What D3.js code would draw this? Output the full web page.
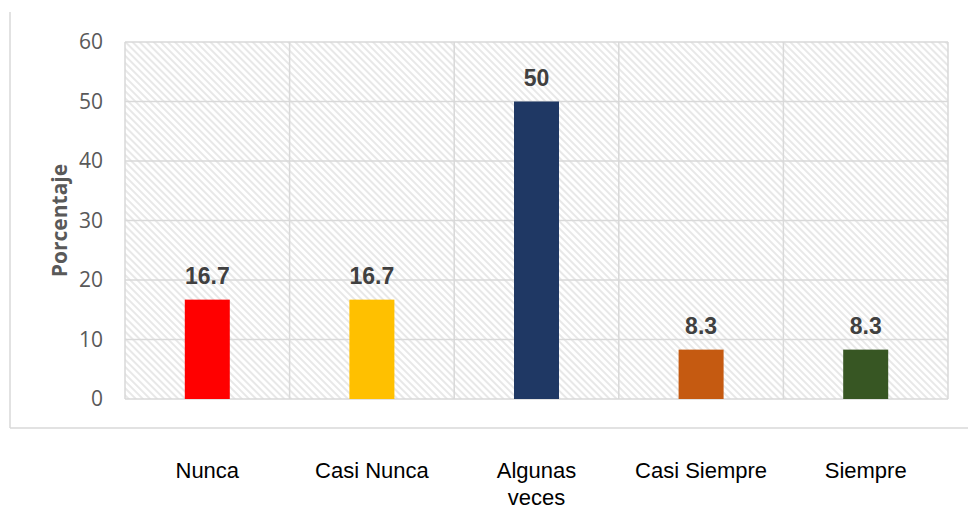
<!DOCTYPE html>
<html>
<head>
<meta charset="utf-8">
<script src="https://cdn.jsdelivr.net/npm/d3@7"></script>
<style>
  body { margin: 0; background: #fff; }
  svg { display: block; }
</style>
</head>
<body>
<svg id="chart" width="968" height="511"></svg>
<script>
var categories = ["Nunca", "Casi Nunca", "Algunas veces", "Casi Siempre", "Siempre"];
var values = [16.7, 16.7, 50, 8.3, 8.3];
var valueLabels = ["16.7", "16.7", "50", "8.3", "8.3"];
var colors = ["#ff0000", "#ffc000", "#1f3864", "#c55a11", "#375623"];
var yTicks = [0, 10, 20, 30, 40, 50, 60];

var svg = d3.select("#chart");
// note: "top" is taken by window.top, so use other names
var plotL = 125, plotR = 948, plotT = 42, plotB = 399;

var x = d3.scaleBand()
    .domain(categories)
    .range([plotL, plotR])
    .paddingInner(0)
    .paddingOuter(0);
var y = d3.scaleLinear()
    .domain([0, 60])
    .range([plotB, plotT]);

// hatch pattern for the plot background
var defs = svg.append("defs");
var pat = defs.append("pattern")
    .attr("id", "hatch")
    .attr("patternUnits", "userSpaceOnUse")
    .attr("width", 5)
    .attr("height", 5)
    .attr("patternTransform", "rotate(45)");
pat.append("rect").attr("width", 5).attr("height", 5).attr("fill", "#fff");
pat.append("line")
    .attr("x1", 0).attr("y1", 1).attr("x2", 5).attr("y2", 1)
    .attr("stroke", "#e8e8e8").attr("stroke-width", 2);

// outer chart border (left and bottom visible)
svg.append("line")
    .attr("x1", 10).attr("x2", 10).attr("y1", 12).attr("y2", 428)
    .attr("stroke", "#d9d9d9").attr("stroke-width", 1.5);
svg.append("line")
    .attr("x1", 10).attr("x2", 968).attr("y1", 428).attr("y2", 428)
    .attr("stroke", "#d9d9d9").attr("stroke-width", 1.5);

svg.append("rect")
    .attr("x", plotL).attr("y", plotT)
    .attr("width", plotR - plotL).attr("height", plotB - plotT)
    .attr("fill", "url(#hatch)");

// horizontal grid
svg.append("g")
    .selectAll("line")
    .data(yTicks)
    .join("line")
    .attr("x1", plotL).attr("x2", plotR)
    .attr("y1", function(d) { return y(d); })
    .attr("y2", function(d) { return y(d); })
    .attr("stroke", "#d9d9d9").attr("stroke-width", 1.5);

// vertical grid at category boundaries
var bounds = categories.map(function(c) { return x(c); }).concat([plotR]);
svg.append("g")
    .selectAll("line")
    .data(bounds)
    .join("line")
    .attr("x1", function(d) { return d; })
    .attr("x2", function(d) { return d; })
    .attr("y1", plotT).attr("y2", plotB)
    .attr("stroke", "#d9d9d9").attr("stroke-width", 1.5);

// y axis
var yAxis = d3.axisLeft(y)
    .tickValues(yTicks)
    .tickSize(0)
    .tickPadding(22);
var gy = svg.append("g")
    .attr("transform", "translate(" + plotL + ",0)")
    .call(yAxis);
gy.select(".domain").remove();
gy.selectAll("text")
    .attr("font-family", "'Open Sans', sans-serif")
    .attr("font-size", 21)
    .attr("fill", "#595959");

svg.append("text")
    .attr("transform", "translate(67," + ((plotT + plotB) / 2) + ")rotate(-90)")
    .attr("text-anchor", "middle")
    .attr("font-family", "'Open Sans', sans-serif")
    .attr("font-size", 21)
    .attr("font-weight", "bold")
    .attr("fill", "#595959")
    .text("Porcentaje");

// bars
var barW = 45;
svg.append("g")
    .selectAll("rect")
    .data(values)
    .join("rect")
    .attr("x", function(d, i) { return x(categories[i]) + x.bandwidth() / 2 - barW / 2; })
    .attr("y", function(d) { return y(d); })
    .attr("width", barW)
    .attr("height", function(d) { return plotB - y(d); })
    .attr("fill", function(d, i) { return colors[i]; });

// value labels
svg.append("g")
    .selectAll("text")
    .data(values)
    .join("text")
    .attr("x", function(d, i) { return x(categories[i]) + x.bandwidth() / 2; })
    .attr("y", function(d) { return y(d) - 16; })
    .attr("text-anchor", "middle")
    .attr("font-family", "'Liberation Sans', Arial, sans-serif")
    .attr("font-size", 23)
    .attr("font-weight", "bold")
    .attr("fill", "#404040")
    .text(function(d, i) { return valueLabels[i]; });

// category labels
var xl = svg.append("g")
    .selectAll("text")
    .data(categories)
    .join("text")
    .attr("x", function(d) { return x(d) + x.bandwidth() / 2; })
    .attr("y", 478)
    .attr("text-anchor", "middle")
    .attr("font-family", "'Liberation Sans', Arial, sans-serif")
    .attr("font-size", 22)
    .attr("fill", "#000");
xl.each(function(d) {
    var t = d3.select(this);
    var words = d === "Algunas veces" ? ["Algunas", "veces"] : [d];
    words.forEach(function(w, k) {
        t.append("tspan")
            .attr("x", t.attr("x"))
            .attr("dy", k === 0 ? 0 : 27)
            .text(w);
    });
});
</script>
</body>
</html>
